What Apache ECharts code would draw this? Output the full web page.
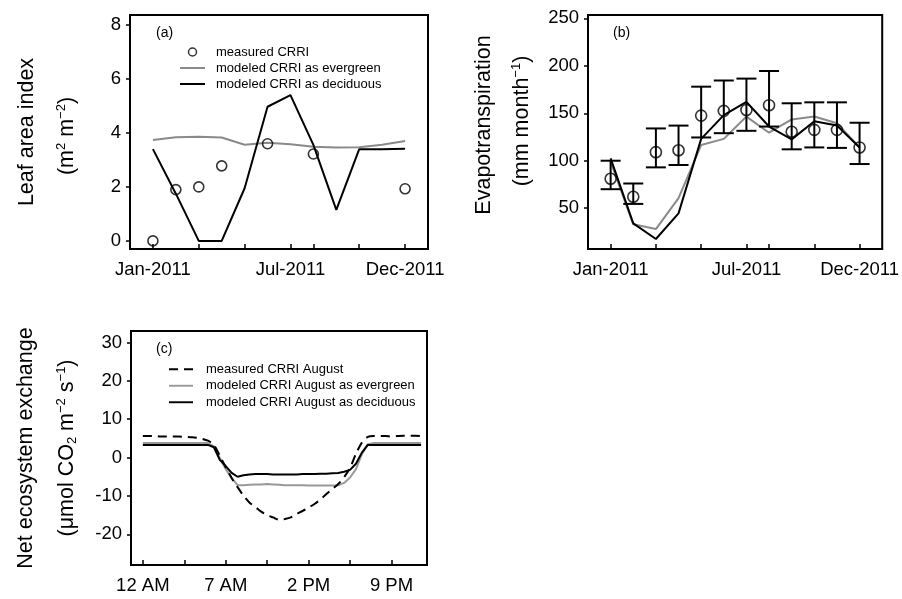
<!DOCTYPE html>
<html><head><meta charset="utf-8">
<script src="https://cdn.jsdelivr.net/npm/echarts@6/dist/echarts.min.js"></script>
<style>html,body{margin:0;padding:0;background:#fff}#c{width:902px;height:599px}</style>
</head><body><div id="c"></div>
<script>
// ---------- data ----------
const months = [1,2,3,4,5,6,7,8,9,10,11,12];
const monthTicks = [1,3,5,7,8,10,12];
const monthLabelValues = [1,7,12];
const monthLabelText = ['Jan-2011','Jul-2011','Dec-2011'];

// (a) leaf area index
const laiMeasuredMonths = [1,2,3,4,6,8,12];
const laiMeasured = [0, 1.9, 2.0, 2.78, 3.6, 3.22, 1.93];
const laiEvergreen = [3.74,3.84,3.86,3.83,3.56,3.64,3.58,3.49,3.46,3.47,3.56,3.70];
const laiDeciduous = [3.40,1.75,0,0,1.95,4.97,5.40,3.56,1.15,3.40,3.40,3.41];
const laiTicks = [0,2,4,6,8];

// (b) evapotranspiration
const etMeasured = [81,62,109,111,147.5,152.5,153.5,158.5,130.5,132.5,132.5,114];
const etLow = [70,54.5,93,95.5,124.5,129,131.5,136,112,114,113.5,96.5];
const etHigh = [100,76,134,137,178,184.5,186.5,194.5,160.5,161.5,161.5,140];
const etDeciduous = [102.5,34,17.5,44.5,123,148,162,136,122.5,141.5,137,114];
const etEvergreen = [99,33,28,60.5,116.5,123,146.5,129.5,143.5,146.5,139.5,114];
const etTicks = [50,100,150,200,250];

// (c) net ecosystem exchange, half-hourly (0 = 12 AM)
const halfHours = Array.from({length:48},(_,i)=>i);
const neeMeasured = [5.6,5.6,5.6,5.5,5.5,5.5,5.5,5.4,5.3,5.2,4.9,4.4,
  3.3,0.5,-2.5,-5.3,-7.7,-9.9,-11.7,-12.9,-14.1,-15.0,-15.6,-16.2,
  -16.0,-15.6,-14.7,-13.9,-13.0,-12.1,-10.9,-9.5,-8.2,-6.9,-5.1,-2.7,
  1.0,3.9,5.4,5.6,5.6,5.6,5.5,5.6,5.7,5.7,5.7,5.6];
const neeEvergreen = [3.8,3.8,3.8,3.8,3.8,3.8,3.8,3.8,3.8,3.8,3.8,3.8,
  2.9,-0.1,-3.0,-5.3,-7.2,-7.2,-7.1,-7.0,-7.0,-6.9,-7.0,-7.1,
  -7.2,-7.2,-7.2,-7.2,-7.3,-7.3,-7.3,-7.3,-7.3,-7.2,-6.6,-5.2,
  -3.0,0.9,3.5,3.8,3.8,3.8,3.8,3.8,3.8,3.8,3.8,3.8];
const neeDeciduous = [3.3,3.3,3.3,3.3,3.3,3.3,3.3,3.3,3.3,3.3,3.3,3.3,
  2.7,-0.6,-2.2,-4.0,-5.0,-4.6,-4.4,-4.3,-4.3,-4.3,-4.4,-4.4,
  -4.4,-4.4,-4.4,-4.3,-4.3,-4.3,-4.2,-4.2,-4.1,-4.0,-3.7,-3.2,
  -1.6,1.3,3.3,3.3,3.3,3.3,3.3,3.3,3.3,3.3,3.3,3.3];
const hourTicks = [0,7,14,21,28,35,42];
const hourLabelValues = [0,14,28,42];
const hourLabelText = ['12 AM','7 AM','2 PM','9 PM'];
const neeTicks = [-20,-10,0,10,20,30];

// ---------- styling ----------
const FF = 'Liberation Sans, Arial, Helvetica, sans-serif';
const GRAY = '#8a8a8a';
const TICKFS = 18.5;
const SOLID_ICON = 'path://M0,0h25v2h-25z';
const DASH_ICON = 'path://M0,0h9v2h-9z M15,0h9v2h-9z';

function xAxisCfg(gi, min, max, ticks, labVals, labText){
  return {
    type:'value', gridIndex:gi, min:min, max:max,
    axisLine:{show:true, onZero:false, lineStyle:{color:'#000', width:2}},
    axisTick:{show:true, inside:true, length:5, customValues:ticks, lineStyle:{color:'#000', width:1.5}},
    axisLabel:{show:true, customValues:labVals, margin:11, color:'#000', fontSize:TICKFS, fontFamily:FF,
      formatter:(v)=>{const i=labVals.indexOf(Math.round(v*100)/100); return i>=0?labText[i]:'';}},
    splitLine:{show:false}
  };
}
function yAxisCfg(gi, min, max, ticks){
  return {
    type:'value', gridIndex:gi, min:min, max:max,
    axisLine:{show:true, onZero:false, lineStyle:{color:'#000', width:2}},
    axisTick:{show:true, inside:false, length:4, customValues:ticks, lineStyle:{color:'#000', width:1.5}},
    axisLabel:{show:true, customValues:ticks, margin:9, color:'#000', fontSize:TICKFS, fontFamily:FF},
    splitLine:{show:false}
  };
}
const gridStyle = {show:true, borderColor:'#000', borderWidth:2, backgroundColor:'transparent'};

function vtext(x, y, text, rich){
  return {type:'text', x:x, y:y, rotation:Math.PI/2, silent:true,
    style:{text:text, fontSize:21.5, fontFamily:FF, fill:'#000',
      align:'center', verticalAlign:'middle', textAlign:'center', textVerticalAlign:'middle',
      rich: rich || {}}};
}
const supRich = {
  sup:{fontSize:13, fontFamily:FF, verticalAlign:'top', lineHeight:24},
  sub:{fontSize:13, fontFamily:FF, verticalAlign:'bottom', lineHeight:24}
};
function ptext(x, y, t){
  return {type:'text', x:x, y:y, silent:true,
    style:{text:t, fontSize:14, fontFamily:FF, fill:'#000', align:'left', verticalAlign:'middle',
      textAlign:'left', textVerticalAlign:'middle'}};
}

const option = {
  animation:false,
  backgroundColor:'#fff',
  grid:[
    Object.assign({left:130, top:15, width:298, height:234}, gridStyle),
    Object.assign({left:588, top:15, width:297, height:234}, gridStyle),
    Object.assign({left:131, top:331, width:296, height:234}, gridStyle)
  ],
  xAxis:[
    xAxisCfg(0, 0, 13, monthTicks, monthLabelValues, monthLabelText),
    xAxisCfg(1, 0, 13, monthTicks, monthLabelValues, monthLabelText),
    xAxisCfg(2, -2, 48, hourTicks, hourLabelValues, hourLabelText)
  ],
  yAxis:[
    yAxisCfg(0, -0.3, 8.37, laiTicks),
    yAxisCfg(1, 7, 253.5, etTicks),
    yAxisCfg(2, -28, 33, neeTicks)
  ],
  legend:[
    {orient:'vertical', left:180, top:44, padding:0, itemWidth:25, itemHeight:8, itemGap:0, selectedMode:false,
     textStyle:{fontSize:13, fontFamily:FF, color:'#000', lineHeight:16, padding:[0,0,0,6]},
     data:[
       {name:'measured CRRI', icon:'circle', itemStyle:{color:'rgba(0,0,0,0)', borderColor:'#000', borderWidth:1.5}},
       {name:'modeled CRRI as evergreen', icon:SOLID_ICON, itemStyle:{color:GRAY, borderWidth:0}},
       {name:'modeled CRRI as deciduous', icon:SOLID_ICON, itemStyle:{color:'#000', borderWidth:0}}
     ]},
    {orient:'vertical', left:169, top:361, padding:0, itemWidth:24, itemHeight:8, itemGap:0, selectedMode:false,
     textStyle:{fontSize:13, fontFamily:FF, color:'#000', lineHeight:16.5, padding:[0,0,0,8]},
     data:[
       {name:'measured CRRI August', icon:DASH_ICON, itemStyle:{color:'#000', borderWidth:0}},
       {name:'modeled CRRI August as evergreen', icon:SOLID_ICON, itemStyle:{color:'#999', borderWidth:0}},
       {name:'modeled CRRI August as deciduous', icon:SOLID_ICON, itemStyle:{color:'#000', borderWidth:0}}
     ]}
  ],
  graphic:[
    vtext(27, 132, 'Leaf area index'),
    vtext(67, 136, '(m{sup|2} m{sup|−2})', supRich),
    vtext(484, 125, 'Evapotranspiration'),
    vtext(522, 121, '(mm month{sup|−1})', supRich),
    vtext(26, 448, 'Net ecosystem exchange'),
    vtext(67, 448, '(μmol CO{sub|2} m{sup|−2} s{sup|−1})', supRich),
    ptext(156, 33, '(a)'),
    ptext(613, 33, '(b)'),
    ptext(156, 349, '(c)')
  ],
  series:[
    // (a)
    {name:'modeled CRRI as evergreen', type:'line', xAxisIndex:0, yAxisIndex:0, symbol:'none',
     color:GRAY, lineStyle:{color:GRAY, width:2}, data:months.map((m,i)=>[m, laiEvergreen[i]])},
    {name:'modeled CRRI as deciduous', type:'line', xAxisIndex:0, yAxisIndex:0, symbol:'none',
     color:'#000', lineStyle:{color:'#000', width:2}, data:months.map((m,i)=>[m, laiDeciduous[i]])},
    {name:'measured CRRI', type:'scatter', xAxisIndex:0, yAxisIndex:0, symbol:'circle', symbolSize:10,
     itemStyle:{color:'rgba(0,0,0,0)', borderColor:'#000', borderWidth:1.6},
     data:laiMeasuredMonths.map((m,i)=>[m, laiMeasured[i]]), z:5},
    // (b)
    {name:'ET evergreen', type:'line', xAxisIndex:1, yAxisIndex:1, symbol:'none',
     color:GRAY, lineStyle:{color:GRAY, width:2}, data:months.map((m,i)=>[m, etEvergreen[i]])},
    {name:'ET deciduous', type:'line', xAxisIndex:1, yAxisIndex:1, symbol:'none',
     color:'#000', lineStyle:{color:'#000', width:2}, data:months.map((m,i)=>[m, etDeciduous[i]])},
    {name:'ET error', type:'custom', xAxisIndex:1, yAxisIndex:1,
     encode:{x:0, y:[1,2]},
     data:months.map((m,i)=>[m, etLow[i], etHigh[i]]),
     renderItem:function(params, api){
       const x = api.value(0);
       const lo = api.coord([x, api.value(1)]);
       const hi = api.coord([x, api.value(2)]);
       const w = 10;
       const st = {stroke:'#000', lineWidth:2};
       return {type:'group', children:[
         {type:'line', shape:{x1:lo[0], y1:lo[1], x2:hi[0], y2:hi[1]}, style:st},
         {type:'line', shape:{x1:lo[0]-w, y1:lo[1], x2:lo[0]+w, y2:lo[1]}, style:st},
         {type:'line', shape:{x1:hi[0]-w, y1:hi[1], x2:hi[0]+w, y2:hi[1]}, style:st}
       ]};
     }, z:4},
    {name:'ET measured', type:'scatter', xAxisIndex:1, yAxisIndex:1, symbol:'circle', symbolSize:11,
     itemStyle:{color:'rgba(0,0,0,0)', borderColor:'#000', borderWidth:1.6},
     data:months.map((m,i)=>[m, etMeasured[i]]), z:5},
    // (c)
    {name:'modeled CRRI August as evergreen', type:'line', xAxisIndex:2, yAxisIndex:2, symbol:'none',
     color:'#999', lineStyle:{color:'#999', width:2}, data:halfHours.map((h,i)=>[h, neeEvergreen[i]])},
    {name:'modeled CRRI August as deciduous', type:'line', xAxisIndex:2, yAxisIndex:2, symbol:'none',
     color:'#000', lineStyle:{color:'#000', width:2}, data:halfHours.map((h,i)=>[h, neeDeciduous[i]])},
    {name:'measured CRRI August', type:'line', xAxisIndex:2, yAxisIndex:2, symbol:'none', smooth:0.3,
     color:'#000', lineStyle:{color:'#000', width:2, type:[9,6]}, data:halfHours.map((h,i)=>[h, neeMeasured[i]])}
  ]
};
const chart = echarts.init(document.getElementById('c'), null, {renderer:'canvas'});
chart.setOption(option);
</script>
</body></html>
